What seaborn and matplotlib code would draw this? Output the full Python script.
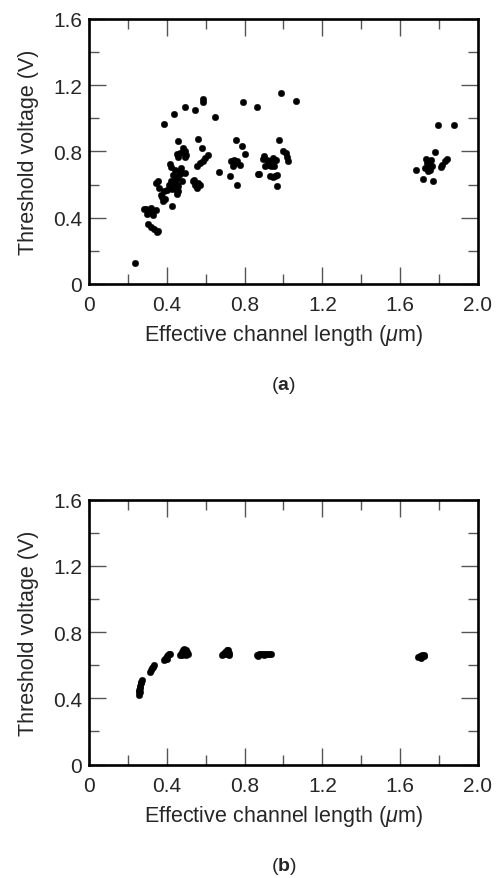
import pandas as pd
import matplotlib.pyplot as plt
import seaborn as sns
from matplotlib.ticker import MultipleLocator

# (a) measured threshold voltage vs effective channel length
a_len = [0.237, 0.386, 0.437, 0.494, 0.545, 0.584, 0.584, 0.646, 0.790, 0.862, 0.987, 1.066,
         0.456, 0.562, 0.579, 0.485, 0.492, 0.500, 0.495, 0.450, 0.460, 0.470,
         0.416, 0.420, 0.613, 0.598, 0.585, 0.570, 0.553,
         0.754, 0.788, 0.800, 0.730, 0.750, 0.760, 0.740, 0.775, 0.745,
         0.667, 0.725, 0.759, 0.871,
         0.535, 0.545, 0.553, 0.540, 0.560, 0.570, 0.494,
         0.460, 0.450, 0.440, 0.455, 0.460, 0.455, 0.470, 0.475, 0.430, 0.440,
         0.468, 0.477, 0.459, 0.442, 0.425, 0.451,
         0.420, 0.410, 0.400, 0.385, 0.370, 0.375, 0.360, 0.355, 0.345, 0.390, 0.380,
         0.425, 0.295, 0.310, 0.325, 0.345, 0.320, 0.300, 0.330, 0.285,
         0.305, 0.320, 0.335, 0.350, 0.355,
         0.978, 0.999, 1.015, 1.025, 1.020,
         0.900, 0.895, 0.915, 0.930, 0.945, 0.950, 0.960, 0.920, 0.905, 0.935, 0.950,
         0.876, 0.930, 0.945, 0.955, 0.965, 0.965,
         1.680, 1.793, 1.877, 1.779, 1.840, 1.830, 1.815, 1.810,
         1.735, 1.740, 1.750, 1.745, 1.730, 1.745, 1.765, 1.760, 1.755, 1.719, 1.767]
a_vt = [0.125, 0.966, 1.027, 1.067, 1.053, 1.117, 1.100, 1.008, 1.100, 1.067, 1.151, 1.105,
        0.866, 0.876, 0.821, 0.820, 0.800, 0.780, 0.765, 0.785, 0.765, 0.790,
        0.725, 0.705, 0.779, 0.760, 0.745, 0.730, 0.711,
        0.871, 0.835, 0.785, 0.745, 0.730, 0.740, 0.715, 0.720, 0.750,
        0.674, 0.650, 0.598, 0.664,
        0.620, 0.600, 0.580, 0.630, 0.610, 0.600, 0.668,
        0.654, 0.640, 0.620, 0.600, 0.560, 0.545, 0.680, 0.700, 0.660, 0.690,
        0.664, 0.624, 0.594, 0.604, 0.574, 0.563,
        0.620, 0.600, 0.570, 0.560, 0.540, 0.525, 0.580, 0.620, 0.610, 0.515, 0.500,
        0.473, 0.455, 0.440, 0.430, 0.445, 0.460, 0.425, 0.415, 0.450,
        0.360, 0.345, 0.330, 0.315, 0.320,
        0.868, 0.800, 0.790, 0.745, 0.765,
        0.770, 0.755, 0.750, 0.740, 0.760, 0.745, 0.750, 0.720, 0.710, 0.715, 0.715,
        0.666, 0.650, 0.645, 0.650, 0.655, 0.590,
        0.690, 0.962, 0.962, 0.795, 0.755, 0.740, 0.720, 0.705,
        0.755, 0.730, 0.725, 0.700, 0.700, 0.680, 0.710, 0.750, 0.690, 0.634, 0.624]

# (b) simulated threshold voltage
b_len = [0.255, 0.256, 0.258, 0.260, 0.262, 0.265, 0.268, 0.270, 0.263,
         0.315, 0.320, 0.325, 0.330, 0.335,
         0.385, 0.390, 0.395, 0.400, 0.405, 0.410, 0.415, 0.400,
         0.470, 0.475, 0.480, 0.485, 0.490, 0.500, 0.505, 0.510, 0.495, 0.480, 0.500,
         0.685, 0.690, 0.700, 0.710, 0.715, 0.720, 0.705, 0.720,
         0.865, 0.875, 0.885, 0.895, 0.905, 0.915, 0.925, 0.935, 0.870, 0.900,
         1.690, 1.700, 1.710, 1.720, 1.725, 1.705]
b_vt = [0.420, 0.435, 0.450, 0.465, 0.475, 0.490, 0.500, 0.510, 0.440,
        0.560, 0.570, 0.580, 0.590, 0.600,
        0.630, 0.640, 0.645, 0.655, 0.660, 0.665, 0.670, 0.640,
        0.660, 0.670, 0.680, 0.690, 0.695, 0.690, 0.680, 0.665, 0.670, 0.660, 0.660,
        0.660, 0.670, 0.680, 0.690, 0.690, 0.675, 0.665, 0.660,
        0.660, 0.665, 0.665, 0.668, 0.668, 0.665, 0.665, 0.670, 0.655, 0.660,
        0.650, 0.655, 0.660, 0.660, 0.655, 0.645]

x_ticks = [0, 0.4, 0.8, 1.2, 1.6, 2.0]
x_labels = ['0', '0.4', '0.8', '1.2', '1.6', '2.0']
y_ticks = [0, 0.4, 0.8, 1.2, 1.6]
y_labels = ['0', '0.4', '0.8', '1.2', '1.6']

sns.set_style("ticks")
plt.rcParams['font.family'] = ['Liberation Sans', 'DejaVu Sans']
plt.rcParams['mathtext.fontset'] = 'custom'
plt.rcParams['mathtext.rm'] = 'Liberation Sans'
plt.rcParams['mathtext.it'] = 'Liberation Sans:italic'
plt.rcParams['mathtext.bf'] = 'Liberation Sans:bold'

fig = plt.figure(figsize=(4.98, 8.79), dpi=100)
ax_a = fig.add_axes([0.1787, 0.6758, 0.7811, 0.3015])
ax_b = fig.add_axes([0.1787, 0.1291, 0.7811, 0.3015])

df_a = pd.DataFrame({'L': a_len, 'Vt': a_vt})
df_b = pd.DataFrame({'L': b_len, 'Vt': b_vt})

for ax, df, tag in [(ax_a, df_a, 'a'), (ax_b, df_b, 'b')]:
    sns.scatterplot(data=df, x='L', y='Vt', ax=ax, color='black', s=22,
                    edgecolor='black', linewidth=0.3)
    ax.set_xlim(0, 2.0)
    ax.set_ylim(0, 1.6)
    ax.set_xticks(x_ticks)
    ax.set_xticklabels(x_labels)
    ax.set_yticks(y_ticks)
    ax.set_yticklabels(y_labels)
    ax.xaxis.set_minor_locator(MultipleLocator(0.2))
    ax.yaxis.set_minor_locator(MultipleLocator(0.2))
    ax.tick_params(which='both', direction='in', top=True, right=True,
                   color='#555555', width=1)
    ax.tick_params(which='major', length=12, labelsize=15)
    ax.tick_params(which='minor', length=7.5)
    ax.tick_params(axis='x', pad=8)
    ax.tick_params(axis='y', pad=5)
    for sp in ax.spines.values():
        sp.set_linewidth(1.9)
        sp.set_color('black')
    ax.set_xlabel(r'Effective channel length ($\mu$m)', fontsize=15.5, labelpad=6)
    ax.set_ylabel('Threshold voltage (V)', fontsize=15.5, labelpad=10)
    ax.text(0.5, -0.38, r'($\mathbf{%s}$)' % tag, transform=ax.transAxes,
            ha='center', va='center', fontsize=14)

fig.savefig('out.png', dpi=100)
